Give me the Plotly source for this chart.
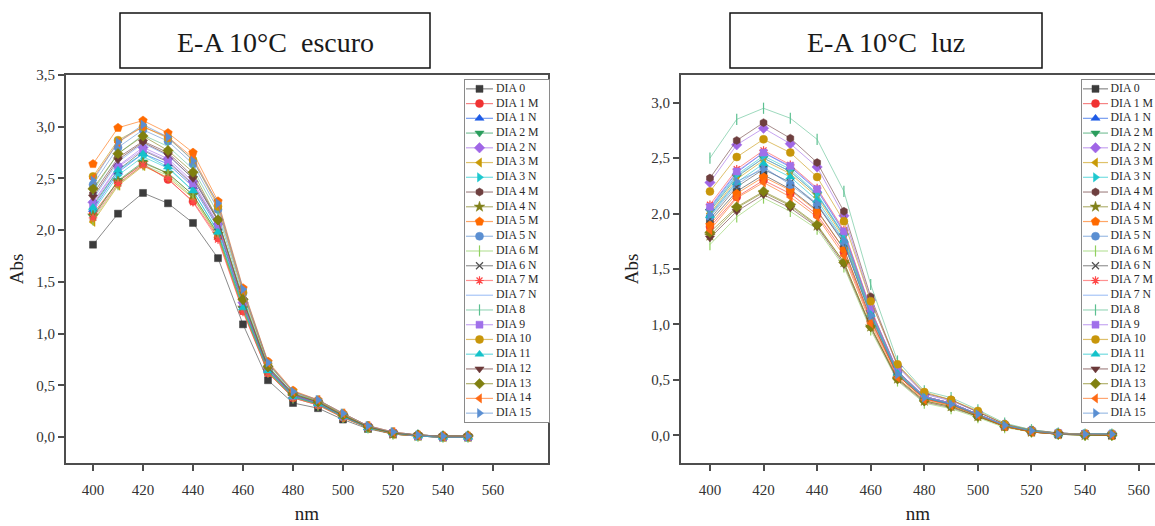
import plotly.graph_objects as go

# ---------------------------------------------------------------- data
nm = [400, 410, 420, 430, 440, 450, 460, 470, 480, 490, 500, 510, 520, 530, 540, 550]
x_ticks = [400, 420, 440, 460, 480, 500, 520, 540, 560]
y_ticks_escuro = [0.0, 0.5, 1.0, 1.5, 2.0, 2.5, 3.0, 3.5]
y_ticks_luz = [0.0, 0.5, 1.0, 1.5, 2.0, 2.5, 3.0]

names = ["DIA 0", "DIA 1 M", "DIA 1 N", "DIA 2 M", "DIA 2 N", "DIA 3 M", "DIA 3 N",
         "DIA 4 M", "DIA 4 N", "DIA 5 M", "DIA 5 N", "DIA 6 M", "DIA 6 N", "DIA 7 M",
         "DIA 7 N", "DIA 8", "DIA 9", "DIA 10", "DIA 11", "DIA 12", "DIA 13", "DIA 14",
         "DIA 15"]

# E-A 10 °C, escuro (absorbance per wavelength)
esc_d0 = [1.86, 2.16, 2.36, 2.26, 2.07, 1.73, 1.09, 0.55, 0.33, 0.28, 0.17, 0.08, 0.03, 0.01, 0.00, 0.00]
esc_d1m = [2.16, 2.47, 2.64, 2.49, 2.28, 1.93, 1.22, 0.62, 0.38, 0.31, 0.19, 0.09, 0.03, 0.01, 0.00, 0.00]
esc_d1n = [2.20, 2.56, 2.74, 2.64, 2.42, 2.02, 1.27, 0.65, 0.40, 0.33, 0.20, 0.09, 0.04, 0.01, 0.00, 0.00]
esc_d2m = [2.13, 2.48, 2.66, 2.55, 2.34, 1.96, 1.24, 0.63, 0.39, 0.32, 0.20, 0.09, 0.03, 0.01, 0.00, 0.00]
esc_d2n = [2.27, 2.62, 2.80, 2.69, 2.47, 2.06, 1.30, 0.66, 0.41, 0.33, 0.21, 0.10, 0.04, 0.02, 0.01, 0.01]
esc_d3m = [2.08, 2.43, 2.62, 2.51, 2.31, 1.94, 1.23, 0.63, 0.39, 0.32, 0.19, 0.09, 0.03, 0.01, 0.00, 0.00]
esc_d3n = [2.18, 2.53, 2.71, 2.60, 2.38, 1.99, 1.26, 0.64, 0.40, 0.32, 0.20, 0.09, 0.04, 0.01, 0.00, 0.00]
esc_d4m = [2.35, 2.70, 2.86, 2.75, 2.52, 2.10, 1.33, 0.68, 0.42, 0.34, 0.21, 0.10, 0.04, 0.02, 0.01, 0.01]
esc_d4n = [2.14, 2.47, 2.65, 2.55, 2.34, 1.96, 1.25, 0.64, 0.39, 0.32, 0.20, 0.09, 0.03, 0.01, 0.00, 0.00]
esc_d5m = [2.64, 2.99, 3.06, 2.94, 2.75, 2.28, 1.44, 0.73, 0.45, 0.36, 0.23, 0.11, 0.05, 0.02, 0.01, 0.01]
esc_d5n = [2.44, 2.80, 2.97, 2.86, 2.64, 2.20, 1.39, 0.71, 0.43, 0.35, 0.22, 0.10, 0.04, 0.02, 0.01, 0.01]
esc_d6m = [2.10, 2.44, 2.63, 2.53, 2.32, 1.95, 1.24, 0.63, 0.38, 0.31, 0.19, 0.09, 0.03, 0.01, 0.00, 0.00]
esc_d6n = [2.24, 2.58, 2.77, 2.66, 2.44, 2.04, 1.29, 0.66, 0.40, 0.33, 0.20, 0.10, 0.04, 0.01, 0.00, 0.00]
esc_d7m = [2.12, 2.45, 2.63, 2.50, 2.27, 1.91, 1.21, 0.62, 0.38, 0.31, 0.19, 0.09, 0.03, 0.01, 0.00, 0.00]
esc_d7n = [2.30, 2.66, 2.84, 2.72, 2.50, 2.09, 1.32, 0.67, 0.41, 0.34, 0.21, 0.10, 0.04, 0.02, 0.01, 0.01]
esc_d8 = [2.38, 2.74, 2.92, 2.81, 2.59, 2.16, 1.36, 0.69, 0.42, 0.35, 0.22, 0.10, 0.04, 0.02, 0.01, 0.01]
esc_d9 = [2.25, 2.61, 2.78, 2.67, 2.45, 2.05, 1.30, 0.66, 0.40, 0.33, 0.20, 0.10, 0.04, 0.01, 0.00, 0.00]
esc_d10 = [2.52, 2.87, 3.00, 2.89, 2.68, 2.23, 1.40, 0.71, 0.44, 0.35, 0.22, 0.10, 0.04, 0.02, 0.01, 0.01]
esc_d11 = [2.22, 2.58, 2.74, 2.61, 2.38, 1.98, 1.25, 0.64, 0.39, 0.32, 0.20, 0.09, 0.04, 0.01, 0.00, 0.00]
esc_d12 = [2.32, 2.68, 2.85, 2.73, 2.50, 2.09, 1.32, 0.67, 0.41, 0.34, 0.21, 0.10, 0.04, 0.02, 0.01, 0.01]
esc_d13 = [2.40, 2.74, 2.91, 2.77, 2.56, 2.10, 1.33, 0.68, 0.42, 0.34, 0.21, 0.10, 0.04, 0.02, 0.01, 0.01]
esc_d14 = [2.50, 2.85, 3.00, 2.90, 2.70, 2.25, 1.42, 0.72, 0.44, 0.36, 0.23, 0.11, 0.05, 0.02, 0.01, 0.01]
esc_d15 = [2.48, 2.85, 3.02, 2.90, 2.67, 2.26, 1.43, 0.72, 0.44, 0.36, 0.23, 0.11, 0.05, 0.02, 0.01, 0.01]

# E-A 10 °C, luz (absorbance per wavelength)
luz_d0 = [1.93, 2.20, 2.35, 2.22, 2.03, 1.68, 1.05, 0.54, 0.33, 0.28, 0.18, 0.08, 0.03, 0.01, 0.01, 0.00]
luz_d1m = [1.88, 2.15, 2.30, 2.18, 1.99, 1.65, 1.03, 0.54, 0.33, 0.27, 0.18, 0.08, 0.03, 0.01, 0.01, 0.00]
luz_d1n = [2.05, 2.37, 2.55, 2.42, 2.21, 1.83, 1.13, 0.58, 0.35, 0.29, 0.19, 0.09, 0.04, 0.02, 0.01, 0.01]
luz_d2m = [2.02, 2.33, 2.50, 2.38, 2.17, 1.80, 1.11, 0.57, 0.35, 0.29, 0.19, 0.09, 0.04, 0.01, 0.01, 0.01]
luz_d2n = [2.28, 2.62, 2.77, 2.63, 2.42, 1.98, 1.22, 0.62, 0.37, 0.31, 0.21, 0.10, 0.04, 0.02, 0.01, 0.01]
luz_d3m = [2.00, 2.31, 2.48, 2.36, 2.15, 1.78, 1.10, 0.57, 0.34, 0.28, 0.19, 0.09, 0.04, 0.01, 0.01, 0.01]
luz_d3n = [2.04, 2.35, 2.52, 2.40, 2.18, 1.81, 1.12, 0.58, 0.35, 0.29, 0.19, 0.09, 0.04, 0.02, 0.01, 0.01]
luz_d4m = [2.32, 2.66, 2.82, 2.68, 2.46, 2.02, 1.25, 0.63, 0.38, 0.32, 0.21, 0.10, 0.05, 0.02, 0.01, 0.01]
luz_d4n = [1.80, 2.05, 2.19, 2.07, 1.89, 1.56, 0.98, 0.51, 0.31, 0.26, 0.17, 0.08, 0.03, 0.01, 0.00, 0.00]
luz_d5m = [1.90, 2.18, 2.33, 2.21, 2.02, 1.68, 1.05, 0.54, 0.33, 0.28, 0.18, 0.08, 0.03, 0.01, 0.01, 0.00]
luz_d5n = [1.97, 2.26, 2.42, 2.26, 2.08, 1.74, 1.08, 0.56, 0.34, 0.28, 0.18, 0.09, 0.04, 0.01, 0.01, 0.01]
luz_d6m = [1.72, 1.97, 2.14, 2.02, 1.86, 1.52, 0.95, 0.49, 0.29, 0.24, 0.16, 0.07, 0.03, 0.01, 0.00, 0.00]
luz_d6n = [1.95, 2.24, 2.40, 2.28, 2.08, 1.73, 1.08, 0.55, 0.34, 0.28, 0.18, 0.09, 0.04, 0.01, 0.01, 0.00]
luz_d7m = [2.08, 2.40, 2.57, 2.44, 2.23, 1.85, 1.14, 0.58, 0.35, 0.29, 0.19, 0.09, 0.04, 0.02, 0.01, 0.01]
luz_d7n = [2.03, 2.34, 2.50, 2.38, 2.17, 1.80, 1.11, 0.57, 0.35, 0.29, 0.19, 0.09, 0.04, 0.01, 0.01, 0.01]
luz_d8 = [2.50, 2.85, 2.95, 2.86, 2.67, 2.20, 1.36, 0.67, 0.40, 0.34, 0.23, 0.11, 0.05, 0.02, 0.01, 0.01]
luz_d9 = [2.06, 2.38, 2.55, 2.43, 2.22, 1.84, 1.14, 0.58, 0.35, 0.29, 0.19, 0.09, 0.04, 0.02, 0.01, 0.01]
luz_d10 = [2.20, 2.51, 2.67, 2.55, 2.33, 1.93, 1.21, 0.64, 0.39, 0.32, 0.22, 0.10, 0.04, 0.02, 0.01, 0.01]
luz_d11 = [1.98, 2.28, 2.45, 2.33, 2.12, 1.76, 1.09, 0.56, 0.34, 0.28, 0.18, 0.09, 0.04, 0.01, 0.01, 0.01]
luz_d12 = [1.78, 2.02, 2.17, 2.05, 1.88, 1.54, 0.97, 0.50, 0.30, 0.25, 0.17, 0.08, 0.03, 0.01, 0.00, 0.00]
luz_d13 = [1.83, 2.06, 2.20, 2.08, 1.90, 1.56, 0.98, 0.51, 0.31, 0.26, 0.17, 0.08, 0.03, 0.01, 0.00, 0.00]
luz_d14 = [1.85, 2.14, 2.28, 2.15, 1.97, 1.62, 1.01, 0.52, 0.32, 0.27, 0.18, 0.08, 0.03, 0.01, 0.01, 0.00]
luz_d15 = [1.99, 2.29, 2.40, 2.28, 2.09, 1.75, 1.08, 0.55, 0.34, 0.28, 0.19, 0.09, 0.04, 0.01, 0.01, 0.01]

escuro = [esc_d0, esc_d1m, esc_d1n, esc_d2m, esc_d2n, esc_d3m, esc_d3n, esc_d4m, esc_d4n,
          esc_d5m, esc_d5n, esc_d6m, esc_d6n, esc_d7m, esc_d7n, esc_d8, esc_d9, esc_d10,
          esc_d11, esc_d12, esc_d13, esc_d14, esc_d15]
luz = [luz_d0, luz_d1m, luz_d1n, luz_d2m, luz_d2n, luz_d3m, luz_d3n, luz_d4m, luz_d4n,
       luz_d5m, luz_d5n, luz_d6m, luz_d6n, luz_d7m, luz_d7n, luz_d8, luz_d9, luz_d10,
       luz_d11, luz_d12, luz_d13, luz_d14, luz_d15]

# ---------------------------------------------------------------- styles
# (colour, marker symbol or None, marker size) for each day
styles = [
    ("#3c3c3c", "square", 7),
    ("#f03232", "circle", 8),
    ("#1e5be6", "triangle-up", 8),
    ("#2a9d5c", "triangle-down", 8),
    ("#a066e6", "diamond", 8),
    ("#c99a06", "triangle-left", 8),
    ("#1ec8cf", "triangle-right", 8),
    ("#6e3f3f", "hexagon", 8),
    ("#80801a", "star", 8),
    ("#ff6a00", "pentagon", 9),
    ("#5b8fd2", "circle", 8),
    ("#90d060", "line-ns", 8),
    ("#505050", "x-thin", 7),
    ("#ff4848", "asterisk", 7),
    ("#6a9ef0", None, 0),
    ("#5cc091", "line-ns", 8),
    ("#a070ea", "square", 7),
    ("#c8960a", "circle", 8),
    ("#14c2ca", "triangle-up", 8),
    ("#6b3838", "triangle-down", 8),
    ("#808010", "diamond", 8),
    ("#ff6a14", "triangle-left", 8),
    ("#5a8fd2", "triangle-right", 8),
]

W, H = 1155, 526
SERIF = "Liberation Serif"


def rgba(hex_colour, alpha):
    h = hex_colour.lstrip("#")
    r, g, b = int(h[0:2], 16), int(h[2:4], 16), int(h[4:6], 16)
    return f"rgba({r},{g},{b},{alpha})"


def px_x(p):
    return p / W


def px_y(p):
    return 1 - p / H


def marker_for(colour, symbol, size):
    open_symbol = symbol in ("line-ns", "x-thin", "asterisk")
    return dict(symbol=symbol, size=size, color=colour,
                line=dict(color=colour, width=1.2 if open_symbol else 0.5))


fig = go.Figure()

# spectra curves
for panel, (xa, ya) in ((escuro, ("x", "y")), (luz, ("x2", "y2"))):
    for name, values, (colour, symbol, size) in zip(names, panel, styles):
        kw = dict(x=nm, y=values, name=name, xaxis=xa, yaxis=ya, showlegend=False,
                  line=dict(color=rgba(colour, 0.6), width=1))
        if symbol is None:
            fig.add_trace(go.Scatter(mode="lines", **kw))
        else:
            fig.add_trace(go.Scatter(mode="lines+markers",
                                     marker=marker_for(colour, symbol, size), **kw))

# in-plot key boxes drawn on their own small axes
for xa, ya, text_x, line_end in (("x3", "y3", 31, 28), ("x4", "y4", 28.5, 26)):
    for i, (colour, symbol, size) in enumerate(styles):
        fig.add_trace(go.Scatter(x=[1, line_end], y=[i, i], mode="lines", xaxis=xa, yaxis=ya,
                                 showlegend=False, hoverinfo="skip",
                                 line=dict(color=rgba(colour, 0.6), width=1.2)))
        if symbol is not None:
            fig.add_trace(go.Scatter(x=[(1 + line_end) / 2], y=[i], mode="markers",
                                     xaxis=xa, yaxis=ya, showlegend=False, hoverinfo="skip",
                                     marker=marker_for(colour, symbol, size)))
    fig.add_trace(go.Scatter(x=[text_x] * len(names), y=list(range(len(names))),
                             mode="text", text=names, textposition="middle right",
                             textfont=dict(family=SERIF, size=11.8, color="#2a2a2a"),
                             xaxis=xa, yaxis=ya, showlegend=False, hoverinfo="skip"))

tick_font = dict(family=SERIF, size=15, color="#333333")
title_font = dict(family=SERIF, size=19, color="#222222")
base_axis = dict(showgrid=False, zeroline=False, showline=True, linecolor="#4d4d4d",
                 linewidth=2, ticks="outside", ticklen=6, tickwidth=1.5,
                 tickcolor="#4d4d4d", tickfont=tick_font, fixedrange=True)

plot_top, plot_bottom = 75, 463
y_dom = [px_y(plot_bottom), px_y(plot_top)]

key_axis = dict(showgrid=False, zeroline=False, showticklabels=False, ticks="",
                showline=True, linecolor="#8a8a8a", linewidth=1, fixedrange=True)
key_y_dom = [px_y(422), px_y(80)]

fig.update_layout(
    width=W, height=H,
    margin=dict(l=0, r=0, t=0, b=0, autoexpand=False),
    paper_bgcolor="white", plot_bgcolor="white",
    separators=",.",
    xaxis=dict(base_axis, domain=[px_x(66), px_x(548)], range=[389.2, 582],
               tickvals=x_ticks, mirror=True, anchor="y", ticklabelstandoff=6,
               title=dict(text="nm", font=title_font, standoff=10)),
    yaxis=dict(base_axis, domain=y_dom, range=[-0.25, 3.5], tickvals=y_ticks_escuro,
               tickformat=".1f", mirror=True, anchor="x",
               title=dict(text="Abs", font=title_font, standoff=8)),
    xaxis2=dict(base_axis, domain=[px_x(681), 1.0], range=[389.2, 566.1],
                tickvals=x_ticks, mirror=True, anchor="y2", ticklabelstandoff=6,
                title=dict(text="nm", font=title_font, standoff=10)),
    yaxis2=dict(base_axis, domain=y_dom, range=[-0.25, 3.25], tickvals=y_ticks_luz,
                tickformat=".1f", mirror=False, anchor="x2",
                title=dict(text="Abs", font=title_font, standoff=8)),
    xaxis3=dict(key_axis, domain=[px_x(465), px_x(549)], range=[0, 84], mirror=True,
                anchor="y3"),
    yaxis3=dict(key_axis, domain=key_y_dom, range=[22.6, -0.6], mirror=True, anchor="x3"),
    xaxis4=dict(key_axis, domain=[px_x(1082), 1.0], range=[0, 73], mirror=True,
                anchor="y4"),
    yaxis4=dict(key_axis, domain=key_y_dom, range=[22.6, -0.6], mirror=False, anchor="x4"),
)

# boxed panel headings
for x0, x1, label in ((120, 430, "E-A 10°C\u00a0 escuro"), (730, 1042, "E-A 10°C\u00a0 luz")):
    fig.add_shape(type="rect", xref="paper", yref="paper",
                  x0=px_x(x0), x1=px_x(x1), y0=px_y(68), y1=px_y(13),
                  line=dict(color="#111111", width=1.5), fillcolor="white")
    fig.add_annotation(x=px_x((x0 + x1) / 2), y=px_y(42), xref="paper", yref="paper",
                       text=label, showarrow=False, xanchor="center", yanchor="middle",
                       font=dict(family=SERIF, size=28, color="#1a1a1a"))

fig.write_html("out.html")
